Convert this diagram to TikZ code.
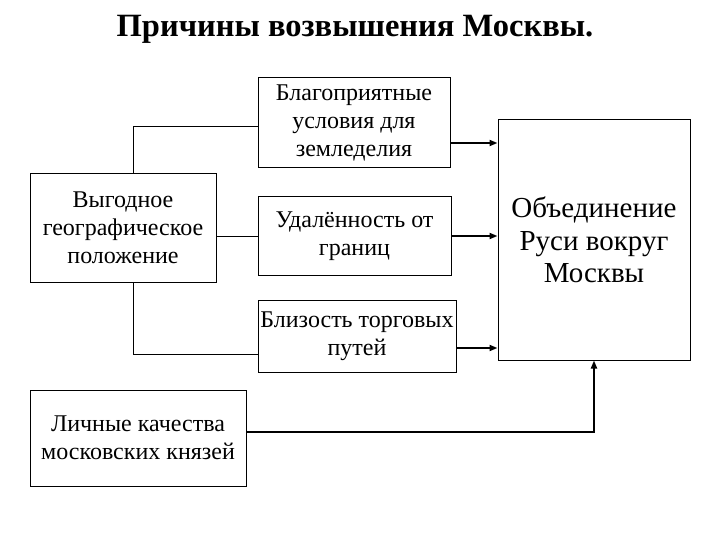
\documentclass[tikz,border=0pt]{standalone}
\usepackage{fontspec}
\setmainfont{Liberation Serif}
\usetikzlibrary{arrows.meta}
\begin{document}
\begin{tikzpicture}[x=1pt,y=-1pt,
  box/.style={draw, line width=1pt, inner sep=0pt, align=center,
    font=\fontsize{24}{28}\selectfont},
  conn/.style={line width=1pt},
  arr/.style={line width=1.8pt, -{Triangle[length=8pt,width=6pt]}}]
\useasboundingbox (0,0) rectangle (720,540);
\node[font=\bfseries\fontsize{32.5}{36}\selectfont] (T) at (355,29) {Причины возвышения Москвы.};
\node[box, minimum width=192pt, minimum height=90pt] (A) at (354,123) {Благоприятные\\условия для\\земледелия};
\node[box, minimum width=186pt, minimum height=108pt] (B) at (123,228) {Выгодное\\географическое\\положение};
\node[box, minimum width=193pt, minimum height=78pt] (C) at (354.5,236) {Удалённость от\\границ};
\node[box, minimum width=198pt, minimum height=72pt] (D) at (357,336) {Близость торговых\\путей};
\node[box, minimum width=192pt, minimum height=240pt, font=\fontsize{29}{32.5}\selectfont] (E) at (594,240) {Объединение\\Руси вокруг\\Москвы};
\node[box, minimum width=216pt, minimum height=96pt] (F) at (138,438) {Личные качества\\московских князей};
\draw[conn] ([xshift=10pt]B.north) |- ([yshift=-4pt]A.west);
\draw[conn] (B.east |- C.west) -- (C.west);
\draw[conn] ([xshift=10pt]B.south) |- ([yshift=-18pt]D.west);
\draw[arr] ([yshift=-20pt]A.east) -- ([yshift=-20pt]A.east -| E.west);
\draw[arr] (C.east) -- (C.east -| E.west);
\draw[arr] ([yshift=-12pt]D.east) -- ([yshift=-12pt]D.east -| E.west);
\draw[arr] ([yshift=6pt]F.east) -| (E.south);
\end{tikzpicture}
\end{document}
